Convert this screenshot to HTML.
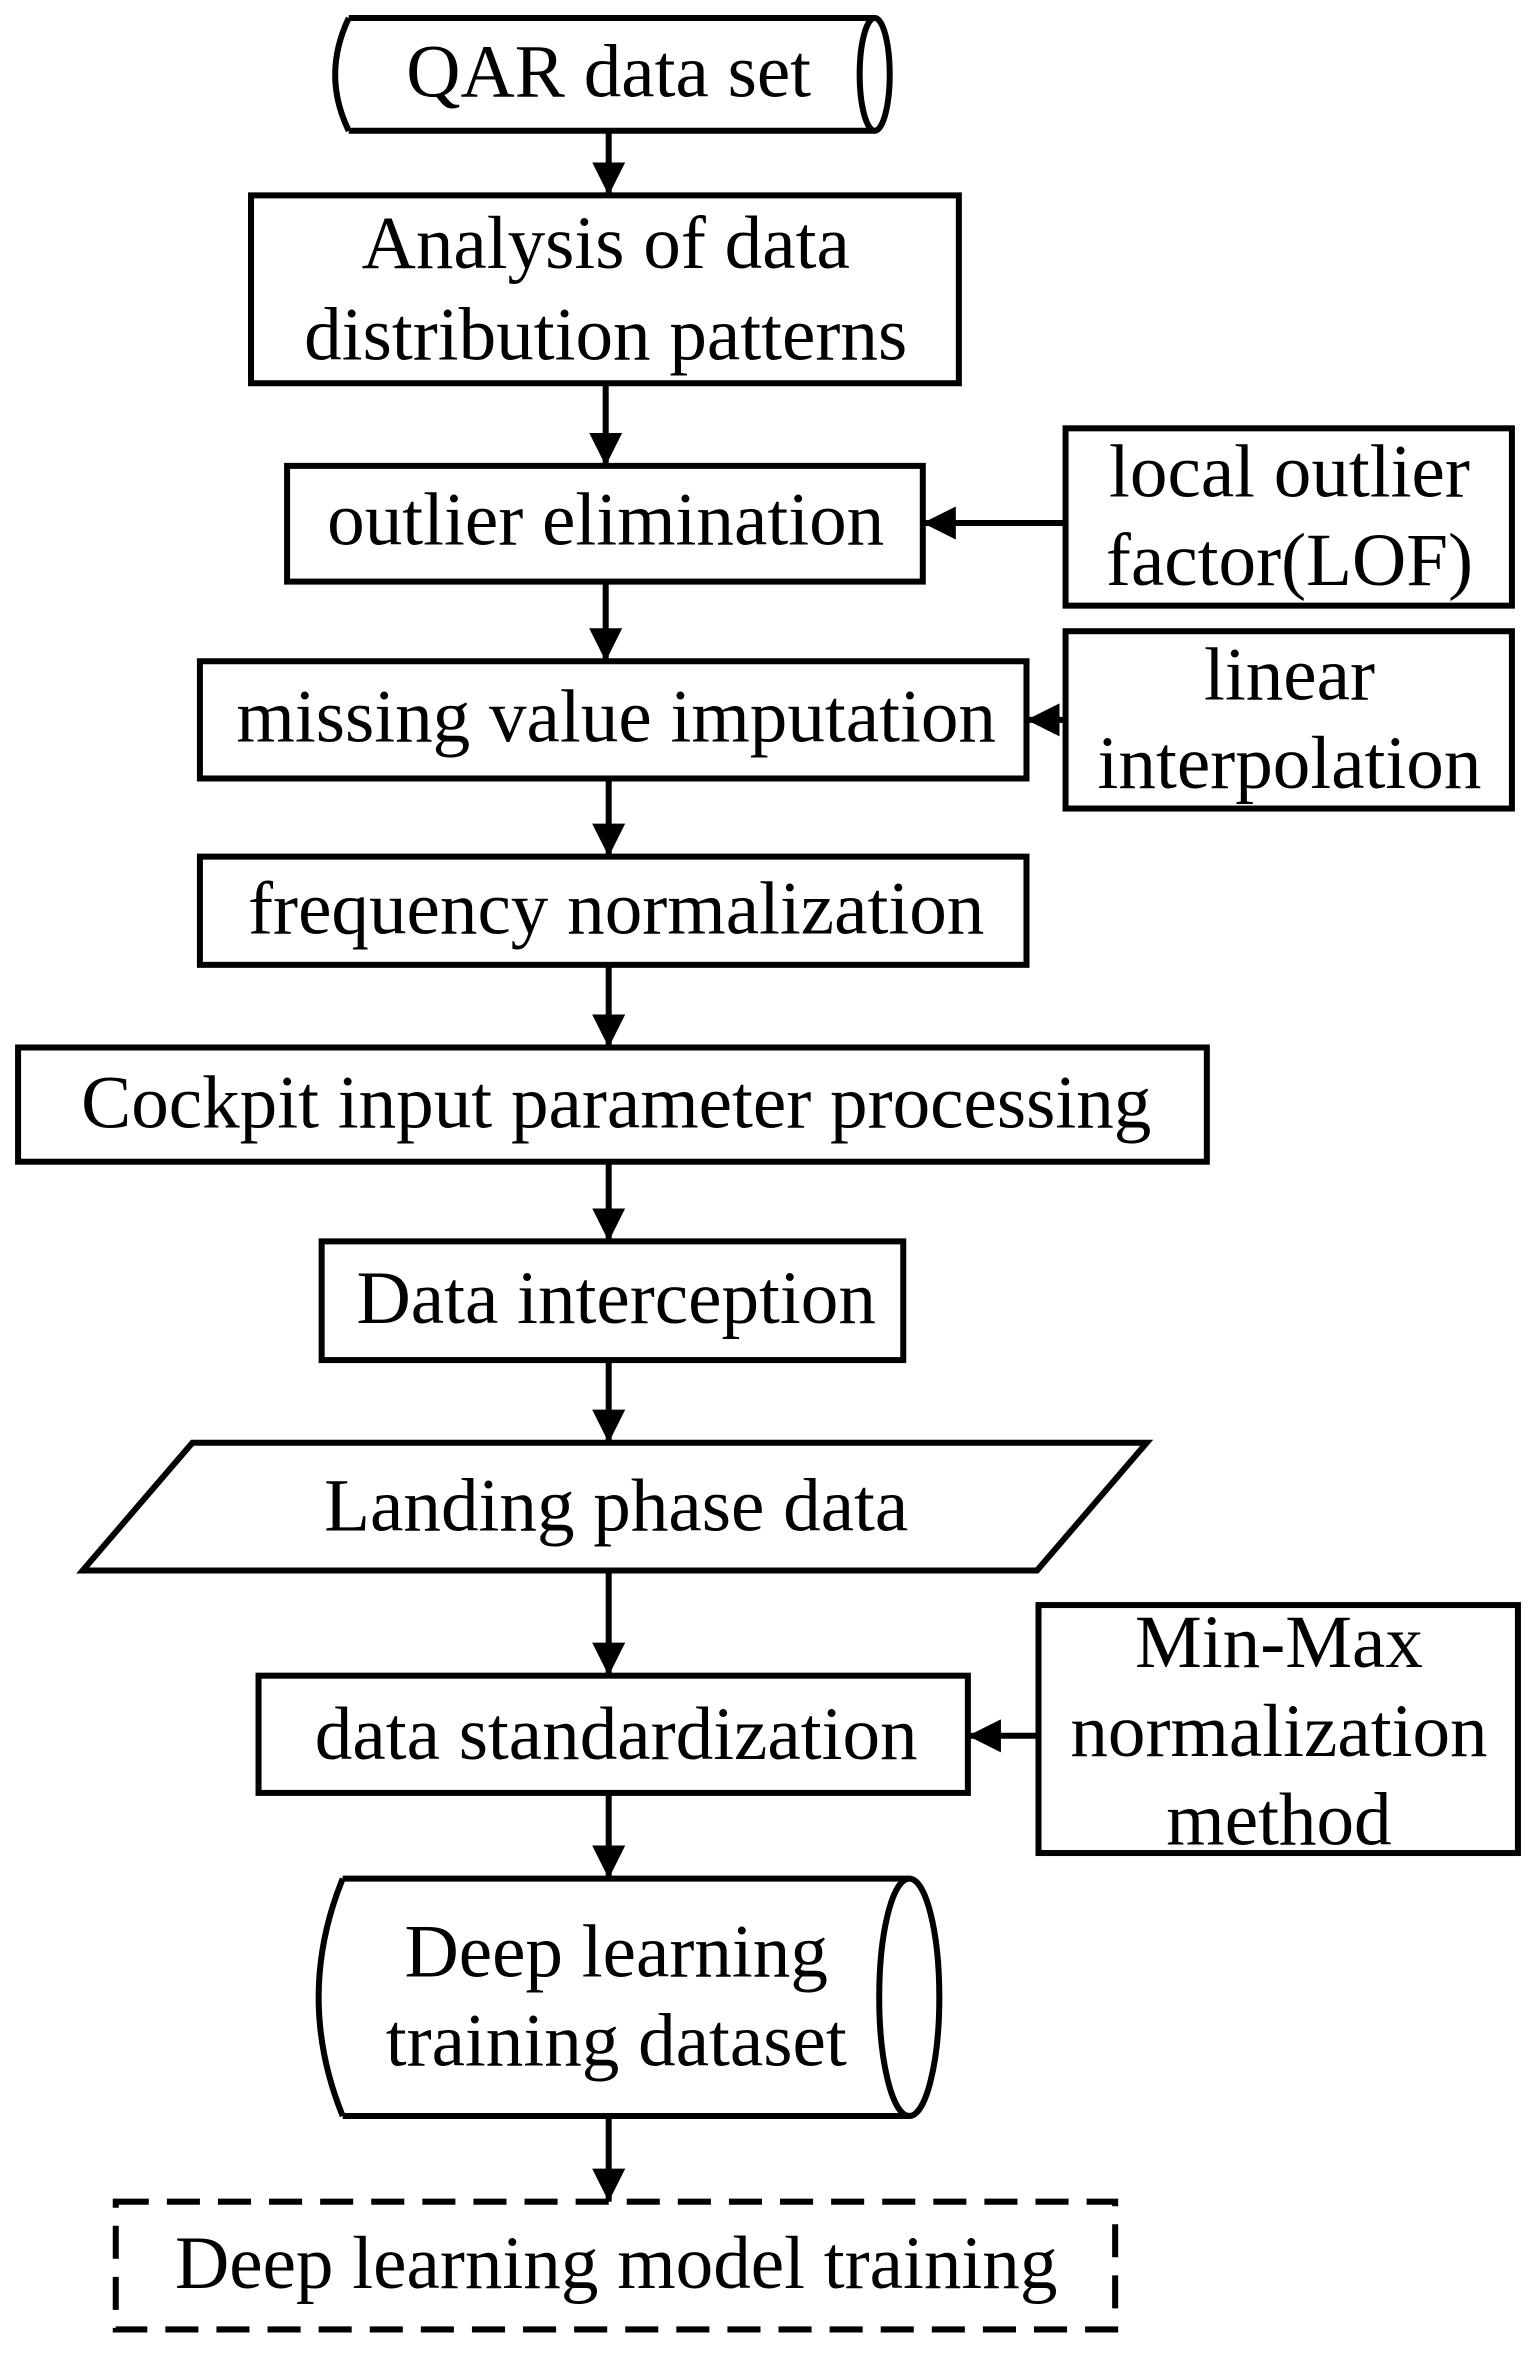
<!DOCTYPE html>
<html><head><meta charset="utf-8"><style>
html,body{margin:0;padding:0;background:#fff;}
svg{display:block;}
text{font-family:"Liberation Serif",serif;font-size:50px;fill:#000;text-anchor:middle;dominant-baseline:central;}
</style></head><body>
<svg width="1539" height="2364" viewBox="0 0 1024 1573" xmlns="http://www.w3.org/2000/svg">
<defs>
<marker id="ah" viewBox="0 0 10 10" refX="10" refY="5" markerWidth="22" markerHeight="22" markerUnits="userSpaceOnUse" orient="auto"><path d="M0,0 L10,5 L0,10 z" fill="#000"/></marker></defs>
<g fill="none" stroke="#000" stroke-width="4">
<path d="M232,12 L582,12 M232,87 L582,87 M232,12 Q214,50 232,87"/>
<ellipse cx="582" cy="49.5" rx="10" ry="37.5"/>
<rect x="167" y="130" width="471" height="125"/>
<rect x="191" y="310" width="423" height="77"/>
<rect x="709" y="285" width="297" height="118"/>
<rect x="133" y="440" width="550" height="78"/>
<rect x="709" y="420" width="297" height="118"/>
<rect x="133" y="570" width="550" height="72"/>
<rect x="12" y="697" width="791" height="76"/>
<rect x="214" y="826" width="387" height="79"/>
<path d="M128,960 L763,960 L690,1045 L55,1045 Z"/>
<rect x="172" y="1115" width="472" height="78"/>
<rect x="691" y="1068" width="319" height="165"/>
<path d="M228,1250 L605,1250 M228,1408 L605,1408 M228,1250 Q196,1329 228,1408"/>
<ellipse cx="605" cy="1329" rx="20" ry="79"/>
<rect x="77" y="1465" width="665" height="85" stroke-dasharray="22,12"/>
<g marker-end="url(#ah)">
<line x1="405" y1="87" x2="405" y2="130"/>
<line x1="403" y1="255" x2="403" y2="310"/>
<line x1="403" y1="387" x2="403" y2="440"/>
<line x1="405" y1="518" x2="405" y2="570"/>
<line x1="405" y1="642" x2="405" y2="697"/>
<line x1="405" y1="773" x2="405" y2="826"/>
<line x1="405" y1="905" x2="405" y2="960"/>
<line x1="405" y1="1045" x2="405" y2="1115"/>
<line x1="405" y1="1193" x2="405" y2="1250"/>
<line x1="405" y1="1408" x2="405" y2="1465"/>
<line x1="709" y1="348" x2="614" y2="348"/>
<line x1="709" y1="479" x2="683" y2="479"/>
<line x1="691" y1="1155" x2="644" y2="1155"/>
</g>
</g>
<text x="405" y="48">QAR data set</text>
<text x="403" y="162">Analysis of data</text>
<text x="403" y="223">distribution patterns</text>
<text x="403" y="346">outlier elimination</text>
<text x="858" y="314">local outlier</text>
<text x="858" y="373">factor(LOF)</text>
<text x="410" y="477">missing value imputation</text>
<text x="858" y="449">linear</text>
<text x="858" y="508">interpolation</text>
<text x="410" y="605">frequency normalization</text>
<text x="410" y="734">Cockpit input parameter processing</text>
<text x="410" y="864">Data interception</text>
<text x="410" y="1002">Landing phase data</text>
<text x="410" y="1154">data standardization</text>
<text x="851" y="1093">Min-Max</text>
<text x="851" y="1152">normalization</text>
<text x="851" y="1211">method</text>
<text x="410" y="1299">Deep learning</text>
<text x="410" y="1358">training dataset</text>
<text x="410" y="1506">Deep learning model training</text>
</svg>
</body></html>
